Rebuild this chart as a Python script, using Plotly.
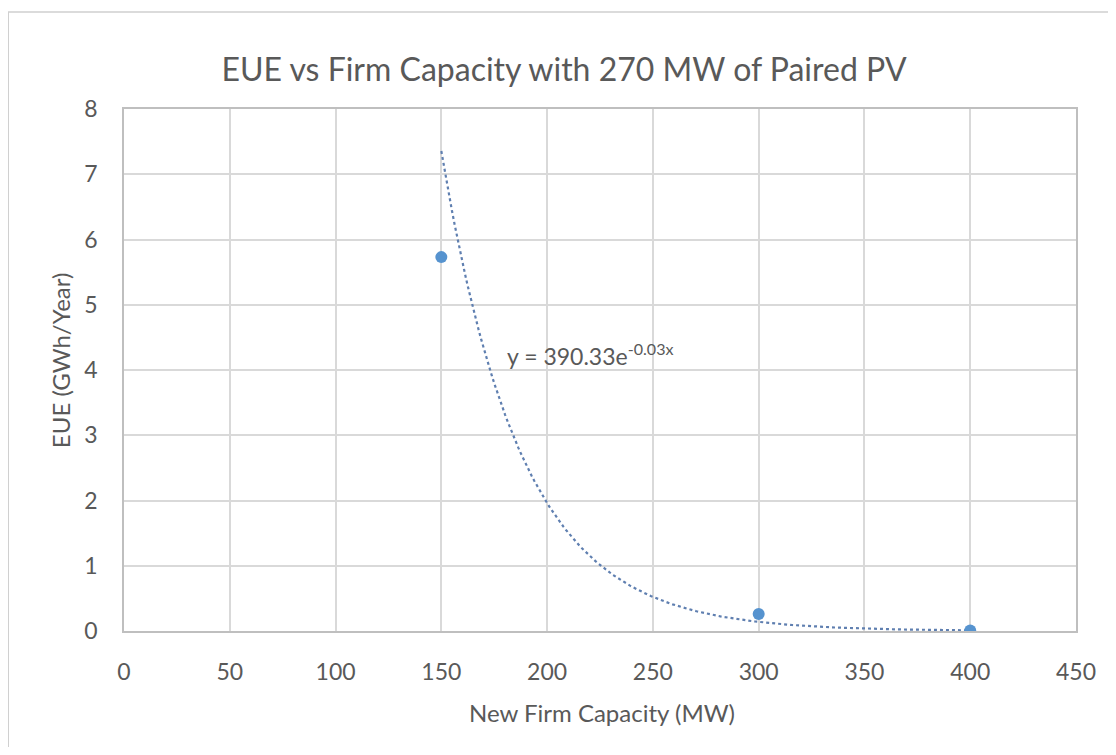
import numpy as np
import plotly.graph_objects as go

# Data
capacity_mw = [150, 300, 400]
eue_gwh = [5.73, 0.26, 0.0068]
x_ticks = [0, 50, 100, 150, 200, 250, 300, 350, 400, 450]
y_ticks = [0, 1, 2, 3, 4, 5, 6, 7, 8]
title_text = "EUE vs Firm Capacity with 270 MW of Paired PV"
x_title = "New Firm Capacity (MW)"
y_title = "EUE (GWh/Year)"
trend_label = "y = 390.33e<sup>-0.03x</sup>"

# Exponential trendline fitted to the data (like Excel)
k, ln_a = np.polyfit(capacity_mw, np.log(eue_gwh), 1)
tx = np.linspace(min(capacity_mw), max(capacity_mw), 200)
ty = np.exp(ln_a) * np.exp(k * tx)

FONT = "Lato"
GRAY = "#595959"
GRID = "#d9d9d9"

# page body has an 8px margin -> figure coords = screen coords - 8
OFF = 8
FW, FH = 1116 - 2 * OFF, 755 - 2 * OFF
L, R, T, B = 124 - OFF, 1078 - OFF, 109 - OFF, 631 - OFF
W, H = R - L, B - T


def px(x):
    return (x - OFF - L) / W


def py(y):
    return (B - (y - OFF)) / H


fig = go.Figure()
fig.add_trace(go.Scatter(
    x=tx, y=ty, mode="lines",
    line=dict(color="#5f7fb0", width=2.2, dash="dot"),
    hoverinfo="skip", showlegend=False,
))
fig.add_trace(go.Scatter(
    x=capacity_mw, y=eue_gwh, mode="markers",
    marker=dict(color="#5693cf", size=12, line=dict(width=0)),
    showlegend=False,
))

fig.add_annotation(
    x=180, y=4.23, xref="x", yref="y", text=trend_label,
    showarrow=False, xanchor="left", yanchor="middle",
    font=dict(family=FONT, size=23, color=GRAY),
)

# axis titles placed at measured positions
fig.add_annotation(
    x=px(603), y=py(712), xref="paper", yref="paper", text=x_title,
    showarrow=False, xanchor="center", yanchor="middle",
    font=dict(family=FONT, size=24, color=GRAY),
)
fig.add_annotation(
    x=px(60), y=py(360), xref="paper", yref="paper", text=y_title,
    showarrow=False, xanchor="center", yanchor="middle", textangle=-90,
    font=dict(family=FONT, size=24, color=GRAY),
)

# chart-area frame
fig.add_shape(type="rect", xref="paper", yref="paper",
              x0=px(8), x1=px(1112), y0=py(749), y1=py(12),
              line=dict(color="#d0d0d0", width=1.5), layer="below")

fig.update_layout(
    width=FW, height=FH,
    margin=dict(l=L, r=FW - R, t=T, b=FH - B),
    paper_bgcolor="white", plot_bgcolor="white",
    title=dict(text=title_text, x=px(565), xref="paper", xanchor="center",
               y=1 - (70 - OFF) / FH, yanchor="middle",
               font=dict(family=FONT, size=32, color=GRAY)),
    font=dict(family=FONT, color=GRAY),
)
fig.update_xaxes(
    range=[0, 450], tickvals=x_ticks, ticks="", showgrid=True,
    gridcolor=GRID, gridwidth=1.5, zeroline=False,
    showline=True, linecolor="#bfbfbf", linewidth=1.5, mirror=True,
    tickfont=dict(family=FONT, size=23, color=GRAY), ticklabelstandoff=20,
)
fig.update_yaxes(
    range=[0, 8], tickvals=y_ticks, ticks="", showgrid=True,
    gridcolor=GRID, gridwidth=1.5, zeroline=False,
    showline=True, linecolor="#bfbfbf", linewidth=1.5, mirror=True,
    tickfont=dict(family=FONT, size=23, color=GRAY), ticklabelstandoff=20,
)

fig.write_html("out.html")
